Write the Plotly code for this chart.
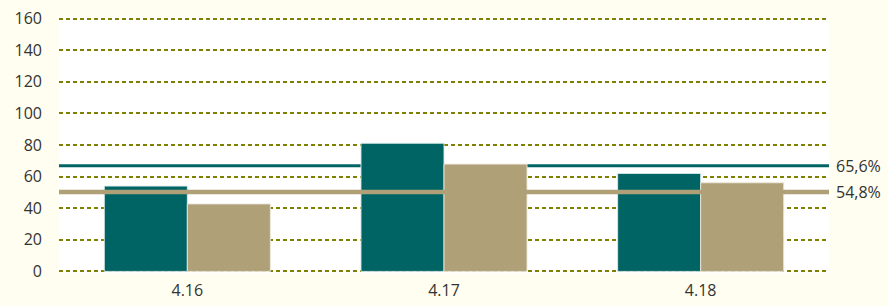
import plotly.graph_objects as go

categories = ["4.16", "4.17", "4.18"]
series_a = [54.0, 81.1, 62.0]   # teal bars
series_b = [42.7, 67.9, 56.1]   # tan bars
ref_levels = [66.8, 50.3]       # horizontal reference lines (positions)
ref_labels = ["65,6%", "54,8%"]
y_ticks = [0, 20, 40, 60, 80, 100, 120, 140, 160]

TEAL = "#006464"
TAN = "#AFA078"
CREAM = "#FFFEF0"
TXT = "#333333"
FONT = "Open Sans"

fig = go.Figure()
fig.add_trace(go.Bar(x=categories, y=series_a,
                     marker=dict(color=TEAL, line=dict(color="rgba(220,235,235,0.9)", width=1))))
fig.add_trace(go.Bar(x=categories, y=series_b,
                     marker=dict(color=TAN, line=dict(color="rgba(235,232,220,0.9)", width=1))))

colors = [TEAL, TAN]
layers = ["between", "above"]
widths = [3, 4.5]
for lvl, lab, c, ly, w in zip(ref_levels, ref_labels, colors, layers, widths):
    fig.add_shape(type="line", xref="paper", yref="y", x0=0, x1=1, y0=lvl, y1=lvl,
                  line=dict(color=c, width=w), layer=ly)
    fig.add_annotation(xref="paper", yref="y", x=1, y=lvl, text=lab, showarrow=False,
                       xanchor="left", yanchor="middle", xshift=5,
                       font=dict(family=FONT, size=16, color=TXT))

PX = 252 / 160  # pixels per unit
fig.update_layout(
    width=888, height=306,
    margin=dict(l=59, r=59, t=19 - PX, b=35 - PX, pad=0, autoexpand=False),
    paper_bgcolor=CREAM, plot_bgcolor="white",
    barmode="group", bargap=0.353, bargroupgap=0,
    showlegend=False,
    font=dict(family=FONT, size=16, color=TXT),
)
fig.update_yaxes(range=[-1, 161], tickvals=y_ticks, showgrid=True, gridcolor="#808000",
                 griddash="4px,3px", gridwidth=2, zeroline=False, showline=False,
                 automargin=False,
                 ticks="", ticklabelstandoff=16, tickfont=dict(family=FONT, size=16, color=TXT))
fig.update_xaxes(showgrid=False, showline=False, ticks="", ticklabelstandoff=6,
                 automargin=False,
                 tickfont=dict(family=FONT, size=16, color=TXT))

fig.write_html(
    "out.html",
    config={"displayModeBar": False},
    post_script="document.body.style.margin='0';document.body.style.overflow='hidden';"
                "document.body.style.background='" + CREAM + "';",
)
